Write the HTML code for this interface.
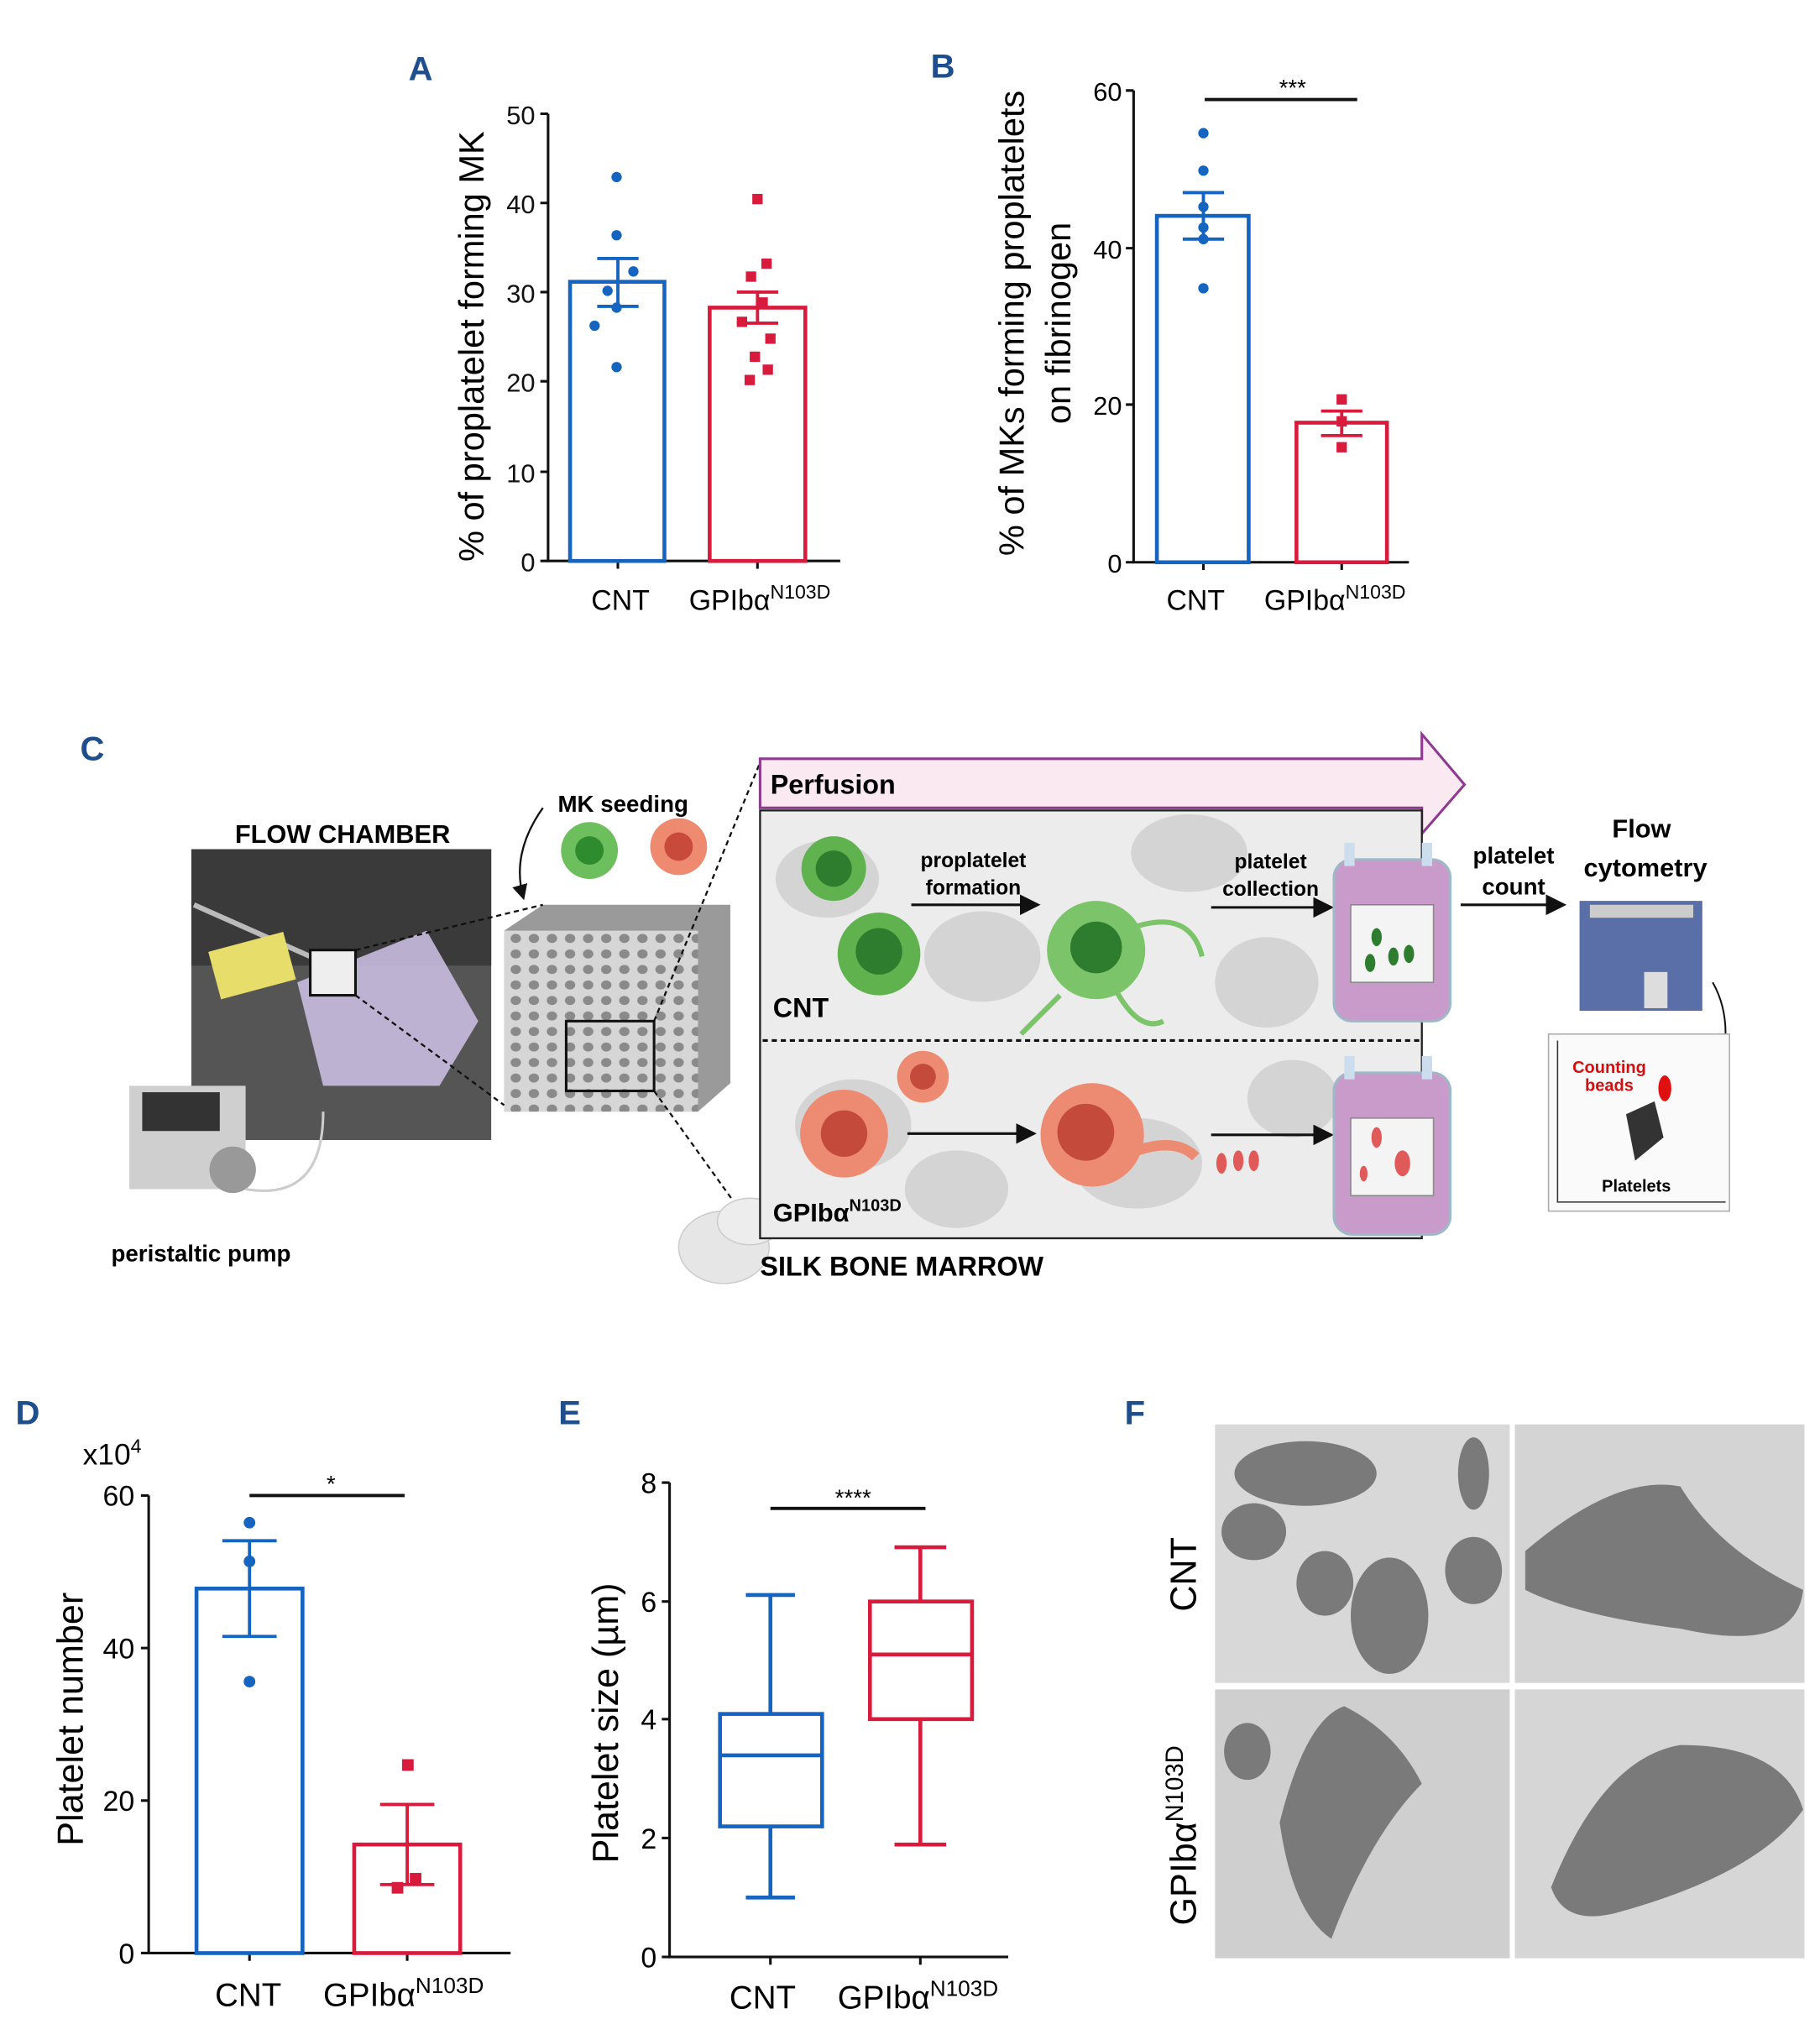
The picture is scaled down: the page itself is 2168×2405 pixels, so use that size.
<!DOCTYPE html>
<html><head><meta charset="utf-8"><style>
html,body{margin:0;padding:0;background:#fff}
svg{display:block}
text{font-family:"Liberation Sans",sans-serif}
</style></head><body>
<svg width="2168" height="2405" viewBox="0 0 1408 1562" xmlns="http://www.w3.org/2000/svg">
<defs>
<marker id="ah" markerWidth="8" markerHeight="8" refX="7" refY="4" orient="auto"><path d="M0,0 L8,4 L0,8 z" fill="#111"/></marker>
<pattern id="holes" width="14" height="12" patternUnits="userSpaceOnUse"><rect width="14" height="12" fill="#d6d6d6"/><ellipse cx="7" cy="6" rx="4" ry="3.5" fill="#8a8a8a"/></pattern>
</defs>
<!-- Panel A -->
<text x="316" y="62" font-size="26" font-weight="bold" fill="#1f4e8c">A</text>
<g stroke="#111" stroke-width="2" fill="none">
<path d="M424,88 V434 H650"/>
<path d="M418,88h6M418,157h6M418,226h6M418,295h6M418,365h6M418,434h6M478,434v6M586,434v6"/>
</g>
<g font-size="20" text-anchor="end" fill="#111">
<text x="414" y="96">50</text><text x="414" y="165">40</text><text x="414" y="234">30</text><text x="414" y="303">20</text><text x="414" y="373">10</text><text x="414" y="442">0</text></g>
<text transform="translate(374,268) rotate(-90)" font-size="27" text-anchor="middle">% of proplatelet forming MK</text>
<rect x="441" y="218" width="73" height="216" fill="none" stroke="#1565c0" stroke-width="3"/>
<rect x="549" y="238" width="74" height="196" fill="none" stroke="#d81b3c" stroke-width="3"/>
<g stroke="#1565c0" stroke-width="2.5"><path d="M478,200V237M462,200h32M462,237h32"/></g>
<g stroke="#d81b3c" stroke-width="2.5"><path d="M586,226V250M570,226h32M570,250h32"/></g>
<g fill="#1565c0"><circle cx="477" cy="137" r="4"/><circle cx="477" cy="182" r="4"/><circle cx="490" cy="210" r="4"/><circle cx="470" cy="225" r="4"/><circle cx="477" cy="238" r="4"/><circle cx="460" cy="252" r="4"/><circle cx="477" cy="284" r="4"/></g>
<g fill="#d81b3c"><rect x="582" y="150" width="8" height="8"/><rect x="589" y="200" width="8" height="8"/><rect x="577" y="210" width="8" height="8"/><rect x="586" y="230" width="8" height="8"/><rect x="570" y="245" width="8" height="8"/><rect x="592" y="258" width="8" height="8"/><rect x="580" y="272" width="8" height="8"/><rect x="590" y="282" width="8" height="8"/><rect x="576" y="290" width="8" height="8"/></g>
<text x="480" y="472" font-size="22" text-anchor="middle">CNT</text>
<text x="533" y="472" font-size="22">GPIbα<tspan font-size="15" dy="-9">N103D</tspan></text>

<!-- Panel B -->
<text x="720" y="60" font-size="26" font-weight="bold" fill="#1f4e8c">B</text>
<g stroke="#111" stroke-width="2" fill="none">
<path d="M877,70 V435 H1090"/>
<path d="M871,70h6M871,192h6M871,313h6M871,435h6M931,435v6M1038,435v6"/>
<path d="M932,77H1050" stroke-width="2.5"/>
</g>
<g font-size="20" text-anchor="end"><text x="868" y="78">60</text><text x="868" y="200">40</text><text x="868" y="321">20</text><text x="868" y="443">0</text></g>
<text x="1000" y="74" font-size="18" text-anchor="middle">***</text>
<text transform="translate(792,250) rotate(-90)" font-size="27" text-anchor="middle">% of MKs forming proplatelets</text>
<text transform="translate(828,250) rotate(-90)" font-size="27" text-anchor="middle">on fibrinogen</text>
<rect x="895" y="167" width="71" height="268" fill="none" stroke="#1565c0" stroke-width="3"/>
<rect x="1003" y="327" width="70" height="108" fill="none" stroke="#d81b3c" stroke-width="3"/>
<g stroke="#1565c0" stroke-width="2.5"><path d="M931,149V185M915,149h32M915,185h32"/></g>
<g stroke="#d81b3c" stroke-width="2.5"><path d="M1038,318V337M1022,318h32M1022,337h32"/></g>
<g fill="#1565c0"><circle cx="931" cy="103" r="4"/><circle cx="931" cy="132" r="4"/><circle cx="931" cy="160" r="4"/><circle cx="931" cy="176" r="4"/><circle cx="931" cy="185" r="4"/><circle cx="931" cy="223" r="4"/></g>
<g fill="#d81b3c"><rect x="1034" y="305" width="8" height="8"/><rect x="1034" y="322" width="8" height="8"/><rect x="1034" y="342" width="8" height="8"/></g>
<text x="925" y="472" font-size="22" text-anchor="middle">CNT</text>
<text x="978" y="472" font-size="22">GPIbα<tspan font-size="15" dy="-9">N103D</tspan></text>

<!-- Panel C -->
<text x="62" y="588" font-size="26" font-weight="bold" fill="#1f4e8c">C</text>
<text x="265" y="652" font-size="20" font-weight="bold" text-anchor="middle">FLOW CHAMBER</text>
<rect x="148" y="657" width="232" height="225" fill="#555"/>
<rect x="148" y="657" width="232" height="90" fill="#3a3a3a"/>
<path d="M150,700 L240,740" stroke="#bbb" stroke-width="4"/>
<rect x="165" y="728" width="60" height="38" fill="#e7dd6a" transform="rotate(-15 195 747)"/>
<path d="M230,760 L330,720 L370,790 L340,840 L250,840 z" fill="#c9bde0" opacity="0.9"/>
<rect x="240" y="735" width="35" height="35" fill="#eee" stroke="#111" stroke-width="2"/>
<path d="M100,840 h90 v80 h-90 z" fill="#cfcfcf"/>
<rect x="110" y="845" width="60" height="30" fill="#333"/>
<circle cx="180" cy="905" r="18" fill="#999"/>
<path d="M190,920 Q250,930 250,860" stroke="#ccc" stroke-width="2" fill="none"/>
<text x="86" y="976" font-size="18" font-weight="bold">peristaltic pump</text>
<text x="482" y="628" font-size="18" font-weight="bold" text-anchor="middle">MK seeding</text>
<circle cx="456" cy="658" r="22" fill="#6cbf5c"/><circle cx="456" cy="658" r="11" fill="#2e8b2e"/>
<circle cx="525" cy="655" r="22" fill="#ee8a70"/><circle cx="525" cy="655" r="11" fill="#c84a3a"/>
<path d="M420,625 Q395,660 405,695" stroke="#111" stroke-width="1.5" fill="none" marker-end="url(#ah)"/>
<path d="M390,720 L420,700 L565,700 L565,838 L540,860 L390,860 z" fill="#9a9a9a"/>
<path d="M390,720 L540,720 L540,860 L390,860 z" fill="url(#holes)"/>
<rect x="438" y="790" width="68" height="54" fill="none" stroke="#111" stroke-width="2"/>
<g stroke="#111" stroke-width="1.5" stroke-dasharray="4,3" fill="none">
<path d="M275,735 L420,700"/><path d="M275,770 L390,855"/>
<path d="M506,790 L588,590"/><path d="M506,844 L588,958"/></g>
<ellipse cx="560" cy="965" rx="35" ry="28" fill="#e6e6e6" stroke="#ccc"/>
<ellipse cx="580" cy="945" rx="25" ry="18" fill="#ededed" stroke="#ccc"/>
<text x="588" y="987" font-size="21" font-weight="bold">SILK BONE MARROW</text>
<!-- perfusion -->
<path d="M588,587 H1100 V568 L1133,607 L1100,645 V625 H588 z" fill="#fbe9f2" stroke="#8e3a8e" stroke-width="2"/>
<text x="596" y="614" font-size="21" font-weight="bold">Perfusion</text>
<rect x="588" y="627" width="512" height="331" fill="#ececec" stroke="#222" stroke-width="1.5"/>
<g fill="#d4d4d4">
<ellipse cx="640" cy="680" rx="40" ry="30"/><ellipse cx="760" cy="740" rx="45" ry="35"/><ellipse cx="920" cy="660" rx="45" ry="30"/><ellipse cx="980" cy="760" rx="40" ry="35"/><ellipse cx="660" cy="870" rx="45" ry="35"/><ellipse cx="880" cy="900" rx="50" ry="35"/><ellipse cx="1000" cy="850" rx="35" ry="30"/><ellipse cx="740" cy="920" rx="40" ry="30"/></g>
<path d="M590,805 H1100" stroke="#111" stroke-width="2" stroke-dasharray="4,3"/>
<circle cx="645" cy="672" r="25" fill="#5fb24e"/><circle cx="645" cy="672" r="14" fill="#2e7d2e"/>
<circle cx="680" cy="738" r="32" fill="#5fb24e"/><circle cx="680" cy="736" r="18" fill="#2e7d2e"/>
<circle cx="848" cy="735" r="38" fill="#7cc46a"/><circle cx="848" cy="733" r="20" fill="#2e7d2e"/>
<path d="M870,720 Q920,700 930,740 M860,760 Q880,800 900,790 M820,770 Q800,790 790,800" stroke="#7cc46a" stroke-width="4" fill="none"/>
<text x="753" y="671" font-size="16" font-weight="bold" text-anchor="middle">proplatelet</text>
<text x="753" y="692" font-size="16" font-weight="bold" text-anchor="middle">formation</text>
<text x="983" y="672" font-size="16" font-weight="bold" text-anchor="middle">platelet</text>
<text x="983" y="693" font-size="16" font-weight="bold" text-anchor="middle">collection</text>
<g stroke="#111" stroke-width="2" marker-end="url(#ah)"><path d="M705,700H803"/><path d="M937,702H1030"/><path d="M702,877H800"/><path d="M937,878H1030"/><path d="M1130,700H1210"/></g>
<text x="598" y="787" font-size="21" font-weight="bold">CNT</text>
<circle cx="653" cy="877" r="34" fill="#ec8a72"/><circle cx="653" cy="877" r="18" fill="#c44a3c"/>
<circle cx="714" cy="833" r="20" fill="#ec8a72"/><circle cx="714" cy="833" r="10" fill="#c44a3c"/>
<circle cx="845" cy="878" r="40" fill="#ec8a72"/><circle cx="840" cy="876" r="22" fill="#c44a3c"/>
<path d="M880,890 Q910,880 925,895" stroke="#ec8a72" stroke-width="8" fill="none"/>
<g fill="#e05a5a"><ellipse cx="945" cy="900" rx="4" ry="8"/><ellipse cx="958" cy="898" rx="4" ry="8"/><ellipse cx="970" cy="898" rx="4" ry="8"/></g>
<text x="598" y="945" font-size="20" font-weight="bold">GPIbα<tspan font-size="13" dy="-8">N103D</tspan></text>
<!-- bags -->
<g>
<rect x="1032" y="665" width="90" height="125" rx="14" fill="#c99bcb" stroke="#9fb8c8" stroke-width="2"/>
<rect x="1045" y="700" width="64" height="60" fill="#f4f4f4" stroke="#888"/>
<rect x="1040" y="652" width="8" height="18" fill="#cde"/><rect x="1100" y="652" width="8" height="18" fill="#cde"/>
<ellipse cx="1065" cy="725" rx="4" ry="7" fill="#2e7d2e"/><ellipse cx="1078" cy="740" rx="4" ry="7" fill="#2e7d2e"/><ellipse cx="1060" cy="745" rx="4" ry="7" fill="#2e7d2e"/><ellipse cx="1090" cy="738" rx="4" ry="7" fill="#2e7d2e"/>
<rect x="1032" y="830" width="90" height="125" rx="14" fill="#c99bcb" stroke="#9fb8c8" stroke-width="2"/>
<rect x="1045" y="865" width="64" height="60" fill="#f4f4f4" stroke="#888"/>
<rect x="1040" y="817" width="8" height="18" fill="#cde"/><rect x="1100" y="817" width="8" height="18" fill="#cde"/>
<ellipse cx="1065" cy="880" rx="4" ry="8" fill="#e05a5a"/><ellipse cx="1085" cy="900" rx="6" ry="10" fill="#e05a5a"/><ellipse cx="1055" cy="908" rx="3" ry="6" fill="#e05a5a"/>
</g>
<text x="1171" y="668" font-size="18" font-weight="bold" text-anchor="middle">platelet</text>
<text x="1171" y="692" font-size="18" font-weight="bold" text-anchor="middle">count</text>
<text x="1270" y="648" font-size="20" font-weight="bold" text-anchor="middle">Flow</text>
<text x="1273" y="678" font-size="20" font-weight="bold" text-anchor="middle">cytometry</text>
<path d="M1222,697 h95 v85 h-95 z" fill="#5a6fa8"/>
<rect x="1230" y="700" width="80" height="10" fill="#ccc"/>
<rect x="1272" y="752" width="18" height="28" fill="#ddd"/>
<path d="M1325,760 Q1342,790 1330,832" stroke="#111" stroke-width="1.3" fill="none" marker-end="url(#ah)"/>
<rect x="1198" y="800" width="140" height="137" fill="#fafafa" stroke="#aaa"/>
<path d="M1205,805 V930 H1335" stroke="#333" fill="none"/>
<text x="1245" y="830" font-size="13" font-weight="bold" fill="#d01010" text-anchor="middle">Counting</text>
<text x="1245" y="844" font-size="13" font-weight="bold" fill="#d01010" text-anchor="middle">beads</text>
<ellipse cx="1288" cy="842" rx="5" ry="10" fill="#e01010"/>
<path d="M1258,862 L1280,852 L1287,880 L1265,898 z" fill="#333"/>
<text x="1266" y="922" font-size="13" font-weight="bold" text-anchor="middle">Platelets</text>

<!-- Panel D -->
<text x="12" y="1102" font-size="26" font-weight="bold" fill="#1f4e8c">D</text>
<text x="64" y="1133" font-size="23">x10<tspan font-size="15" dy="-9">4</tspan></text>
<g stroke="#111" stroke-width="2" fill="none">
<path d="M115,1157 V1511 H395"/>
<path d="M109,1157h6M109,1275h6M109,1393h6M109,1511h6M193,1511v6M315,1511v6"/>
<path d="M193,1157H313" stroke-width="2.5"/></g>
<g font-size="22" text-anchor="end"><text x="104" y="1165">60</text><text x="104" y="1283">40</text><text x="104" y="1401">20</text><text x="104" y="1519">0</text></g>
<text x="256" y="1154" font-size="18" text-anchor="middle">*</text>
<text transform="translate(64,1330) rotate(-90)" font-size="28" text-anchor="middle">Platelet number</text>
<rect x="152" y="1229" width="82" height="282" fill="none" stroke="#1565c0" stroke-width="3"/>
<rect x="274" y="1427" width="82" height="84" fill="none" stroke="#d81b3c" stroke-width="3"/>
<g stroke="#1565c0" stroke-width="2.5"><path d="M193,1192V1266M172,1192h42M172,1266h42"/></g>
<g stroke="#d81b3c" stroke-width="2.5"><path d="M315,1396V1458M294,1396h42M294,1458h42"/></g>
<g fill="#1565c0"><circle cx="193" cy="1178" r="4.5"/><circle cx="193" cy="1208" r="4.5"/><circle cx="193" cy="1301" r="4.5"/></g>
<g fill="#d81b3c"><rect x="311" y="1361" width="9" height="9"/><rect x="317" y="1449" width="9" height="9"/><rect x="303" y="1456" width="9" height="9"/></g>
<text x="192" y="1552" font-size="25" text-anchor="middle">CNT</text>
<text x="250" y="1552" font-size="25">GPIbα<tspan font-size="17" dy="-10">N103D</tspan></text>

<!-- Panel E -->
<text x="432" y="1102" font-size="26" font-weight="bold" fill="#1f4e8c">E</text>
<g stroke="#111" stroke-width="2" fill="none">
<path d="M518,1147 V1514 H780"/>
<path d="M512,1147h6M512,1239h6M512,1330h6M512,1422h6M512,1514h6M596,1514v6M712,1514v6"/>
<path d="M596,1167H716" stroke-width="2.5"/></g>
<g font-size="22" text-anchor="end"><text x="508" y="1155">8</text><text x="508" y="1247">6</text><text x="508" y="1338">4</text><text x="508" y="1430">2</text><text x="508" y="1522">0</text></g>
<text x="660" y="1165" font-size="18" text-anchor="middle">****</text>
<text transform="translate(478,1333) rotate(-90)" font-size="28" text-anchor="middle">Platelet size (µm)</text>
<g stroke="#1565c0" stroke-width="3" fill="none"><rect x="557" y="1326" width="79" height="87"/><path d="M557,1358h79M596,1234V1326M596,1413V1468M577,1234h38M577,1468h38"/></g>
<g stroke="#d81b3c" stroke-width="3" fill="none"><rect x="673" y="1239" width="79" height="91"/><path d="M673,1280h79M712,1197V1239M712,1330V1427M692,1197h40M692,1427h40"/></g>
<text x="590" y="1554" font-size="25" text-anchor="middle">CNT</text>
<text x="648" y="1554" font-size="25">GPIbα<tspan font-size="17" dy="-10">N103D</tspan></text>

<!-- Panel F -->
<text x="870" y="1102" font-size="26" font-weight="bold" fill="#1f4e8c">F</text>
<text transform="translate(925,1218) rotate(-90)" font-size="28" text-anchor="middle">CNT</text>
<text transform="translate(925,1420) rotate(-90)" font-size="28" text-anchor="middle">GPIbα<tspan font-size="19" dy="-10">N103D</tspan></text>
<rect x="940" y="1102" width="228" height="200" fill="#d8d8d8"/>
<rect x="1172" y="1102" width="224" height="200" fill="#d4d4d4"/>
<rect x="940" y="1307" width="228" height="208" fill="#cfcfcf"/>
<rect x="1172" y="1307" width="224" height="208" fill="#d6d6d6"/>
<g fill="#7a7a7a">
<ellipse cx="1010" cy="1140" rx="55" ry="25"/><ellipse cx="970" cy="1185" rx="25" ry="22"/><ellipse cx="1025" cy="1225" rx="22" ry="25"/><ellipse cx="1075" cy="1250" rx="30" ry="45"/><ellipse cx="1140" cy="1140" rx="12" ry="28"/><ellipse cx="1140" cy="1215" rx="22" ry="26"/>
<path d="M1180,1200 Q1250,1140 1300,1150 Q1330,1200 1395,1230 Q1390,1280 1300,1260 Q1220,1250 1180,1230 z"/>
<path d="M990,1410 Q1010,1330 1040,1320 Q1080,1340 1100,1380 Q1060,1420 1030,1500 Q1000,1480 990,1410 z"/>
<ellipse cx="965" cy="1355" rx="18" ry="22"/>
<path d="M1200,1460 Q1240,1360 1300,1350 Q1380,1350 1395,1400 Q1360,1450 1250,1480 Q1210,1490 1200,1460 z"/>
</g>
</svg>
</body></html>
